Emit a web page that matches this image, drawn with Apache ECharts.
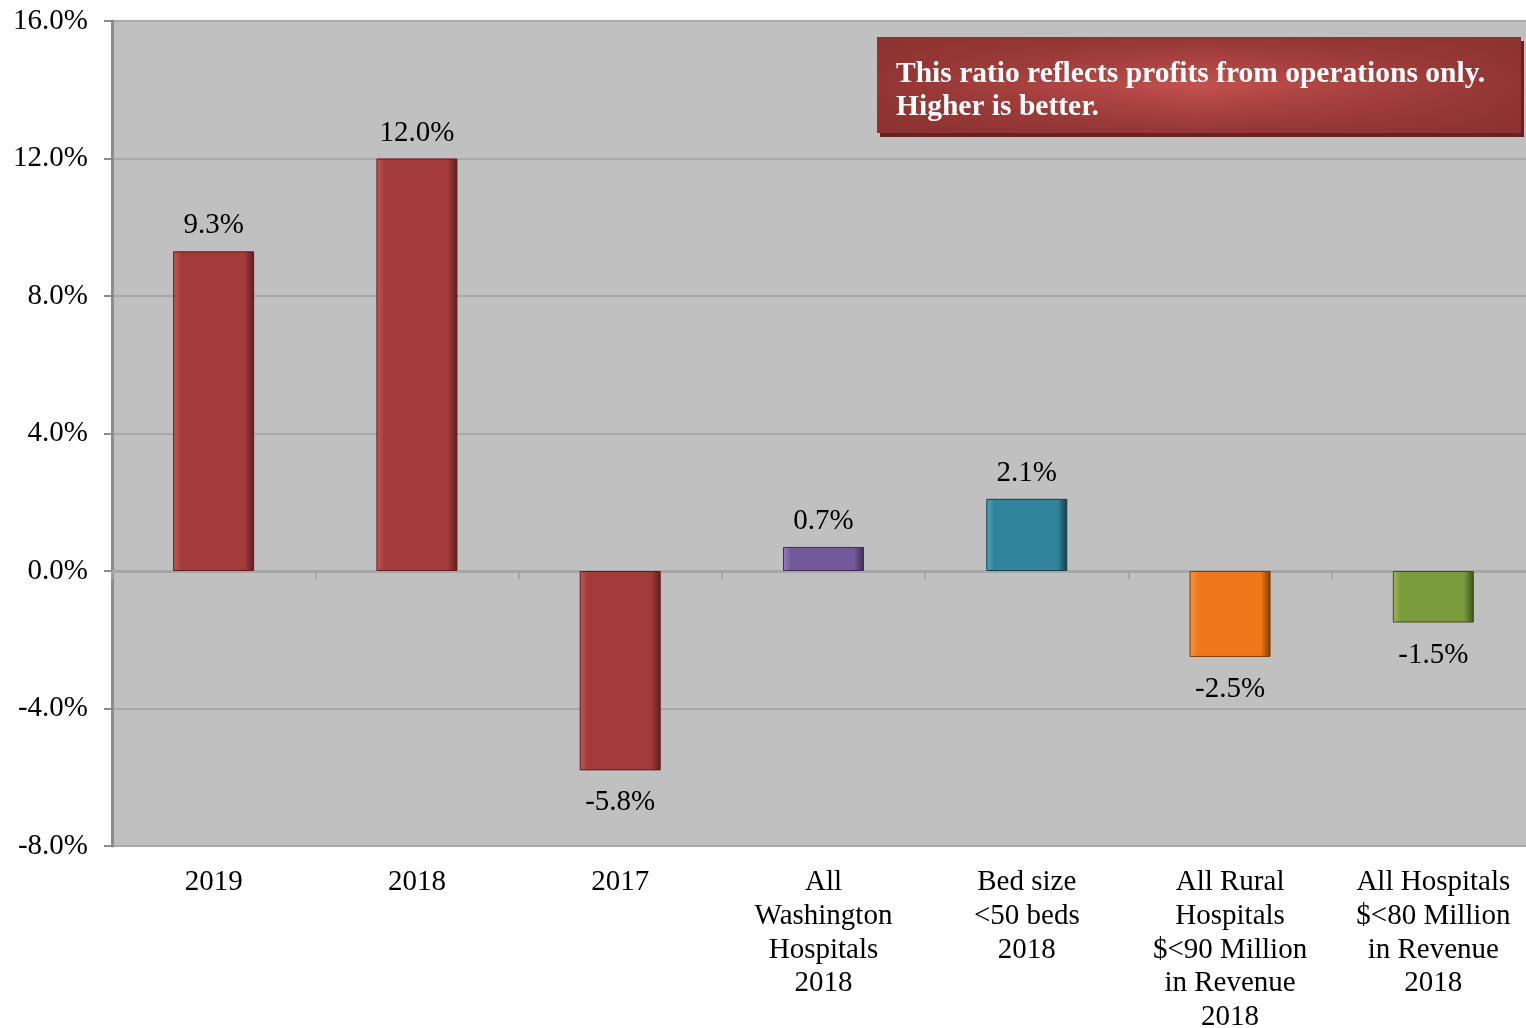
<!DOCTYPE html>
<html>
<head>
<meta charset="utf-8">
<script src="https://cdn.jsdelivr.net/npm/echarts@6/dist/echarts.min.js"></script>
<style>
  html, body { margin: 0; padding: 0; background: #fff; }
  #chart { width: 1526px; height: 1028px; }
</style>
</head>
<body>
<div id="chart"></div>
<script>
// data
const categories = [
  "2019",
  "2018",
  "2017",
  "All\nWashington\nHospitals\n2018",
  "Bed size\n<50 beds\n2018",
  "All Rural\nHospitals\n$<90 Million\nin Revenue\n2018",
  "All Hospitals\n$<80 Million\nin Revenue\n2018"
];
const values = [9.3, 12.0, -5.8, 0.7, 2.1, -2.5, -1.5];
const yTicks = { min: -8, max: 16, step: 4 };
const noteLines = [
  "This ratio reflects profits from operations only.",
  "Higher is better."
];

// bar palette (light, main, dark) per bar
const palette = [
  ["#c05a58", "#a33b3b", "#5e1e1e"],
  ["#c05a58", "#a33b3b", "#5e1e1e"],
  ["#c05a58", "#a33b3b", "#5e1e1e"],
  ["#9a80bd", "#73589a", "#3f2d57"],
  ["#4fa3ba", "#31849b", "#163f4b"],
  ["#f8984a", "#f07818", "#7e3b06"],
  ["#9dbb5c", "#7a9a3c", "#3e521b"]
];

const FONT = "'Liberation Serif', 'Times New Roman', serif";

const chart = echarts.init(document.getElementById("chart"), null, { renderer: "canvas" });

function barStyle(c) {
  return {
    color: new echarts.graphic.LinearGradient(0, 0, 1, 0, [
      { offset: 0, color: c[0] },
      { offset: 0.1, color: c[1] },
      { offset: 0.88, color: c[1] },
      { offset: 1, color: c[2] }
    ]),
    borderColor: c[2],
    borderWidth: 1
  };
}

const barData = values.map((v, i) => ({
  value: v,
  itemStyle: barStyle(palette[i]),
  label: v >= 0 ? { position: "top", distance: 11 } : { position: "bottom", distance: 18 }
}));

const option = {
  backgroundColor: "#ffffff",
  animation: false,
  grid: {
    left: 112,
    right: -9,
    top: 21,
    bottom: 182,
    outerBoundsMode: "none",
    containLabel: false,
    show: true,
    backgroundColor: "#c0c0c0",
    borderWidth: 0
  },
  xAxis: [
    {
      type: "category",
      data: categories,
      position: "bottom",
      axisLine: { show: false, onZero: false },
      axisTick: { show: false },
      axisLabel: {
        interval: 0,
        margin: 20,
        color: "#000",
        fontFamily: FONT,
        fontSize: 29,
        lineHeight: 33.6,
        align: "center"
      }
    },
    {
      type: "category",
      data: categories,
      position: "top",
      axisLine: { show: true, onZero: true, lineStyle: { color: "#a6a6a6", width: 3 } },
      axisTick: { show: true, inside: true, length: 8, lineStyle: { color: "#a6a6a6", width: 2 } },
      axisLabel: { show: false }
    }
  ],
  yAxis: {
    type: "value",
    min: yTicks.min,
    max: yTicks.max,
    interval: yTicks.step,
    axisLine: { show: true, lineStyle: { color: "#8c8c8c", width: 3 } },
    axisTick: { show: true, length: 8, lineStyle: { color: "#8c8c8c", width: 2 } },
    splitLine: { show: true, lineStyle: { color: "#a8a8a8", width: 2 } },
    axisLabel: {
      margin: 24,
      color: "#000",
      fontFamily: FONT,
      fontSize: 29,
      formatter: (v) => v.toFixed(1) + "%"
    }
  },
  series: [
    {
      type: "bar",
      xAxisIndex: 0,
      data: barData,
      barWidth: 81,
      label: {
        show: true,
        color: "#000",
        fontFamily: FONT,
        fontSize: 29,
        formatter: (p) => p.value.toFixed(1) + "%"
      }
    }
  ],
  graphic: [
    {
      type: "group",
      left: 877,
      top: 37,
      children: [
        {
          type: "rect",
          shape: { x: 0, y: 0, width: 644, height: 96 },
          style: {
            fill: new echarts.graphic.LinearGradient(0, 0, 1, 0, [
              { offset: 0, color: "#923533" },
              { offset: 0.5, color: "#c2514e" },
              { offset: 1, color: "#923533" }
            ]),
            shadowBlur: 0,
            shadowOffsetX: 3,
            shadowOffsetY: 4,
            shadowColor: "#632523"
          }
        },
        {
          type: "rect",
          shape: { x: 0, y: 0, width: 644, height: 96 },
          style: {
            fill: new echarts.graphic.LinearGradient(0, 0, 0, 1, [
              { offset: 0, color: "rgba(140,50,48,0.85)" },
              { offset: 0.5, color: "rgba(140,50,48,0)" },
              { offset: 1, color: "rgba(140,50,48,0.85)" }
            ])
          }
        },
        {
          type: "text",
          x: 19,
          y: 21,
          style: {
            text: noteLines.join("\n"),
            fill: "#ffffff",
            fontFamily: FONT,
            fontWeight: "bold",
            fontSize: 29.5,
            lineHeight: 33
          }
        }
      ]
    }
  ]
};

chart.setOption(option);
</script>
</body>
</html>
